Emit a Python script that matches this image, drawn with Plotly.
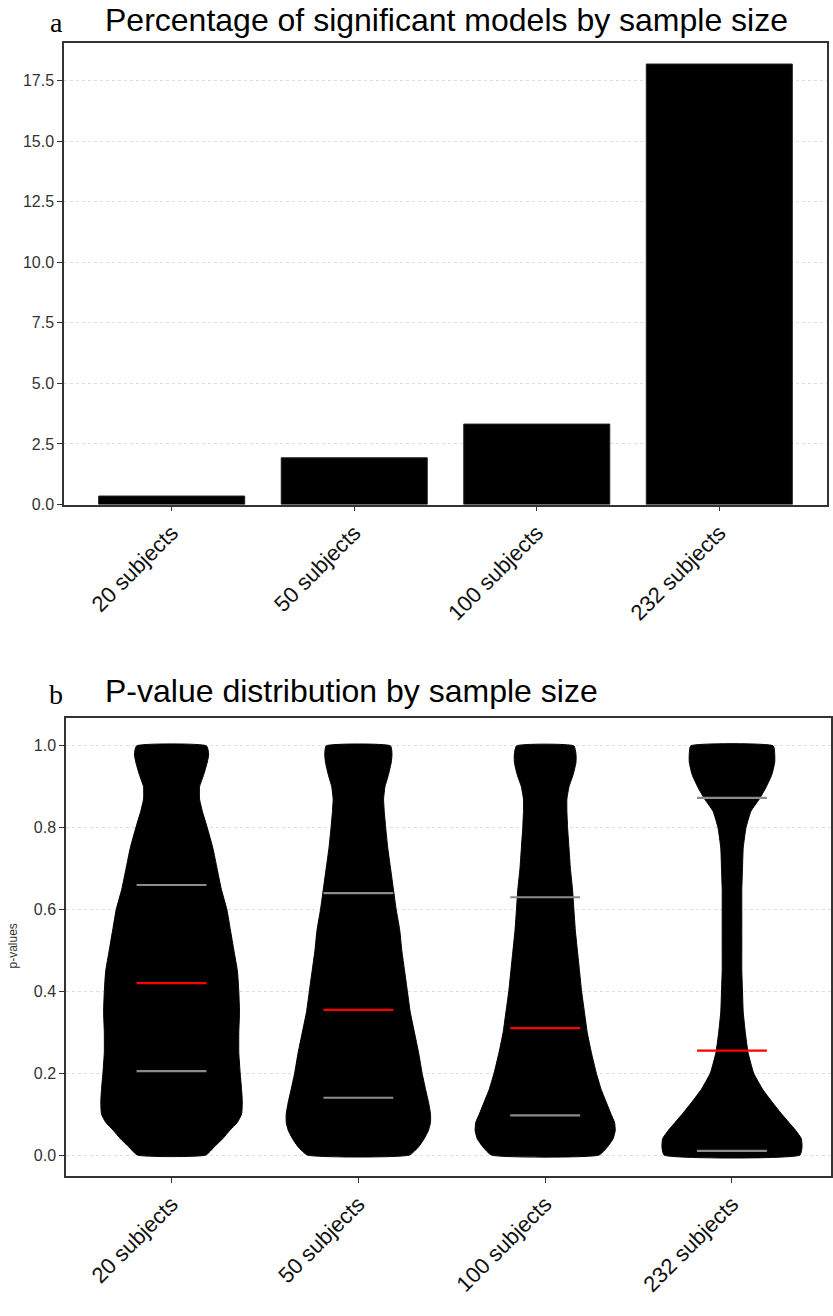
import plotly.graph_objects as go

W, H = 833, 1316

# ---------------- data ----------------
categories = ["20 subjects", "50 subjects", "100 subjects", "232 subjects"]
pct_significant = [0.35, 1.93, 3.32, 18.18]

# violin density profiles (relative half-width at each p-value level)
pv_levels = [0, 0.02, 0.04, 0.06, 0.08, 0.10, 0.13, 0.16, 0.20, 0.25, 0.30, 0.35, 0.40, 0.45,
             0.50, 0.55, 0.60, 0.65, 0.70, 0.75, 0.80, 0.84, 0.87, 0.90, 0.93, 0.96, 0.98, 1.0]
dens_20 = [0.49, 0.61, 0.73, 0.83, 0.94, 1.00, 1.01, 1.00, 0.98, 0.96, 0.96, 0.97, 0.96, 0.94,
           0.89, 0.84, 0.79, 0.71, 0.65, 0.59, 0.51, 0.44, 0.40, 0.40, 0.46, 0.51, 0.53, 0.50]
dens_50 = [0.73, 0.86, 0.94, 1.00, 1.03, 1.03, 1.00, 0.96, 0.91, 0.86, 0.80, 0.74, 0.70, 0.66,
           0.62, 0.59, 0.54, 0.50, 0.46, 0.42, 0.39, 0.37, 0.36, 0.38, 0.43, 0.47, 0.48, 0.46]
dens_100 = [0.77, 0.89, 0.97, 1.00, 0.99, 0.94, 0.87, 0.80, 0.73, 0.66, 0.60, 0.56, 0.52, 0.49,
            0.46, 0.43, 0.41, 0.39, 0.36, 0.34, 0.32, 0.31, 0.31, 0.34, 0.40, 0.44, 0.44, 0.41]
dens_232 = [0.97, 1.00, 0.99, 0.91, 0.81, 0.71, 0.57, 0.44, 0.31, 0.23, 0.19, 0.16, 0.15, 0.14,
            0.14, 0.14, 0.14, 0.14, 0.15, 0.16, 0.20, 0.27, 0.39, 0.49, 0.57, 0.61, 0.61, 0.59]
densities = [dens_20, dens_50, dens_100, dens_232]

q25 = [0.205, 0.14, 0.097, 0.01]
median = [0.42, 0.355, 0.31, 0.255]
q75 = [0.66, 0.64, 0.63, 0.873]

bar_ticks = [0, 2.5, 5, 7.5, 10, 12.5, 15, 17.5]
p_ticks = [0, 0.2, 0.4, 0.6, 0.8, 1.0]

# ---------------- styling ----------------
VIOLIN_HALF = 0.375
LINE_HALF = 0.187
FONT = "Liberation Sans, Arial, sans-serif"
SERIF = "Liberation Serif, Times New Roman, serif"
AXC = "#333333"


def py(y):  # pixel -> paper
    return 1 - y / H


def px(x):
    return x / W


fig = go.Figure()

# panel a bars
fig.add_trace(go.Bar(
    x=list(range(len(categories))), y=pct_significant, width=0.8,
    marker=dict(color="black", line=dict(color="#222222", width=1)),
    xaxis="x", yaxis="y", showlegend=False, hoverinfo="y"))

# panel b violins
for i, dens in enumerate(densities):
    left = [i - VIOLIN_HALF * d for d in dens]
    right = [i + VIOLIN_HALF * d for d in dens]
    xs = left + right[::-1]
    ys = pv_levels + pv_levels[::-1]
    fig.add_trace(go.Scatter(
        x=xs + [xs[0]], y=ys + [ys[0]], mode="lines", fill="toself",
        fillcolor="black", line=dict(color="black", width=1, shape="spline", smoothing=0.45),
        xaxis="x2", yaxis="y2", showlegend=False, hoverinfo="skip"))

for vals, col in ((q25, "#8c8c8c"), (q75, "#8c8c8c"), (median, "#ff0000")):
    for i, v in enumerate(vals):
        fig.add_trace(go.Scatter(
            x=[i - LINE_HALF, i + LINE_HALF], y=[v, v], mode="lines",
            line=dict(color=col, width=2.2),
            xaxis="x2", yaxis="y2", showlegend=False, hoverinfo="skip"))

axis_common = dict(showline=True, linecolor=AXC, linewidth=1.5, mirror=True,
                   ticks="outside", ticklen=5, tickcolor=AXC, tickwidth=1.2,
                   zeroline=False)

fig.update_layout(
    width=W, height=H, margin=dict(l=0, r=0, t=0, b=0),
    paper_bgcolor="white", plot_bgcolor="white",
    font=dict(family=FONT, color="#222222"),
    xaxis=dict(domain=[px(64), px(827)], range=[-0.59, 3.59], anchor="y",
               tickmode="array", tickvals=list(range(4)), ticktext=categories,
               tickangle=-45, tickfont=dict(size=22, color="#111111"),
               showgrid=False, **axis_common),
    yaxis=dict(domain=[py(508), py(43)], range=[0, 19.06], anchor="x",
               tickmode="array", tickvals=bar_ticks,
               ticktext=[f"{t:.1f}" for t in bar_ticks],
               tickfont=dict(size=16, color="#333333"),
               showgrid=True, gridcolor="#dddddd", griddash="dot", gridwidth=1,
               **axis_common),
    xaxis2=dict(domain=[px(66), px(831)], range=[-0.565, 3.53], anchor="y2",
                tickmode="array", tickvals=list(range(4)), ticktext=categories,
                tickangle=-45, tickfont=dict(size=22, color="#111111"),
                showgrid=False, **axis_common),
    yaxis2=dict(domain=[py(1184), py(723)], range=[-0.051, 1.068], anchor="x2",
                tickmode="array", tickvals=p_ticks,
                ticktext=[f"{t:.1f}" for t in p_ticks],
                tickfont=dict(size=16, color="#333333"),
                showgrid=True, gridcolor="#dddddd", griddash="dot", gridwidth=1,
                **axis_common),
    bargap=0.2,
)

annotations = [
    dict(text="a", x=px(56), y=py(23), font=dict(family=SERIF, size=28, color="black")),
    dict(text="Percentage of significant models by sample size", x=px(103), y=py(20),
         xanchor="left", font=dict(family=FONT, size=32, color="black")),
    dict(text="b", x=px(56), y=py(699), font=dict(family=SERIF, size=28, color="black")),
    dict(text="P-value distribution by sample size", x=px(103), y=py(696),
         xanchor="left", font=dict(family=FONT, size=32, color="black")),
    dict(text="p-values", x=px(13), y=py(953), textangle=-90,
         font=dict(family=FONT, size=12, color="#333333")),
]
for a in annotations:
    a.setdefault("xanchor", "center")
    a.update(xref="paper", yref="paper", showarrow=False, yanchor="middle")
fig.update_layout(annotations=annotations)

fig.write_html("out.html")
